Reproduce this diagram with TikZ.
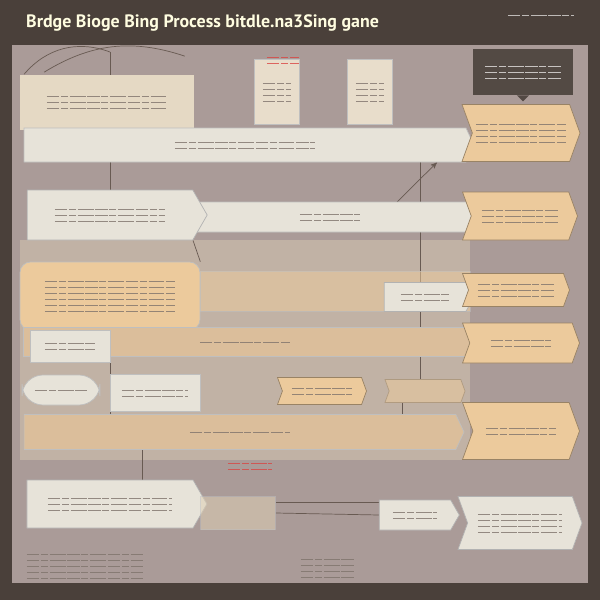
\documentclass[tikz,border=0pt]{standalone}
\usepackage{fontspec}
\setmainfont{PT Sans}
\usepackage{xcolor}
\usetikzlibrary{calc,positioning,arrows,shapes.symbols,shapes.geometric}
\pgfdeclarelayer{background}
\pgfsetlayers{background,main}
\definecolor{frame}{RGB}{74,64,58}
\definecolor{panel}{RGB}{170,155,152}
\definecolor{paper}{RGB}{231,227,217}
\definecolor{peach}{RGB}{236,202,156}
\definecolor{sand}{RGB}{222,207,181}
\definecolor{ink}{RGB}{104,90,82}
\tikzset{
    >=stealth',
    plainbox/.style={
        rectangle,
        inner sep=0pt,
        draw=black!25, thin
    },
    bandbox/.style={
        signal, signal to=east,
        signal pointer angle=130,
        inner sep=0pt,
        fill=paper, draw=black!25, thin
    },
    lightbox/.style={
        signal, signal to=east,
        signal pointer angle=120,
        inner sep=0pt,
        fill=paper, draw=black!30, thin
    },
    notebox/.style={
        signal, signal from=west, signal to=east,
        signal pointer angle=140,
        inner sep=0pt,
        fill=peach, draw=peach!65!black, thin
    },
    cardbox/.style={
        rectangle,
        inner sep=0pt,
        fill=sand!70!white, draw=black!25,
        minimum width=.9cm, minimum height=1.3cm
    },
    line/.style={draw=ink, thin},
    scrib/.style={ink!85!white, line width=.5pt, opacity=.8,
        dash pattern=on 7pt off 1pt on 4pt off 1pt on 9pt off 1pt},
    titletext/.style={text=white!88!yellow,
        font={\bfseries\fontsize{10.2pt}{12}\selectfont}},
}
% faint lines standing in for the unreadable small print
\newcommand{\fauxtext}[4][scrib]{%
    \foreach \k in {1,...,#3}
        \draw[#1] ($(#2)+(-#4,{(\k-(#3+1)/2)*6})$) -- ++(2*#4,0);
}

\begin{document}
\begin{tikzpicture}
[
    x=0.02cm, y=-0.02cm,
    fade/.style={opacity=.55},
]
\useasboundingbox (0,0) rectangle (600,600);
\begin{pgfonlayer}{background}
\fill[frame] (0,0) rectangle (600,600);
\fill[panel] (12,45) rectangle (588,583);
\fill[sand, opacity=.45] (20,240) rectangle (470,460);
\end{pgfonlayer}

\node[titletext, anchor=west] (title) at (20,23) {Brdge Bioge Bing Process bitdle.na3Sing gane};
\coordinate (stamp) at (541,15);
\fauxtext[scrib, white!80!frame]{stamp}{1}{33}

% top strip
\node[plainbox, fill=sand!80!white, draw=none, minimum width=3.5cm, minimum height=1.1cm] (intro) at (107,102) {};
\node[cardbox] (cardA) at (277,92) {};
\node[cardbox] (cardB) at (370,92) {};
\node[rectangle, fill=frame!95!white, minimum width=2cm, minimum height=.92cm] (tip) at (523,72) {};
\fill[frame!95!white] ($(tip.south)+(-6,0)$) -- ($(tip.south)+(0,6)$) -- ($(tip.south)+(6,0)$) -- cycle;

% row 1
\node[bandbox, minimum width=9cm, minimum height=.68cm] (band1) at (245,145) {};
\node[notebox, minimum width=2.36cm, minimum height=1.14cm] (note1) at (521,133) {};

% row 2
\node[bandbox, minimum width=5.6cm, minimum height=.6cm] (band2) at (330,217) {};
\node[lightbox, minimum width=3.6cm, minimum height=1cm] (step2) at (110,215) {};
\node[notebox, minimum width=2.3cm, minimum height=.96cm] (note2) at (520,216) {};

% row 3
\node[plainbox, fill=peach, fade, minimum width=5.4cm, minimum height=.8cm] (band3) at (335,291) {};
\node[plainbox, fill=peach, rounded corners=6pt, minimum width=3.6cm, minimum height=1.36cm] (step3) at (110,296) {};
\node[lightbox, minimum width=1.8cm, minimum height=.58cm] (tag3) at (425,297) {};
\node[notebox, minimum width=2.14cm, minimum height=.66cm] (note3) at (516,290) {};

% row 4
\node[bandbox, fill=peach!75!panel, minimum width=9cm, minimum height=.58cm] (band4) at (245,342) {};
\node[plainbox, fill=paper, minimum width=1.6cm, minimum height=.64cm] (step4) at (70,346) {};
\node[notebox, minimum width=2.34cm, minimum height=.8cm] (note4) at (521,343) {};

% row 5
\node[bandbox, fill=peach!75!panel, minimum width=8.8cm, minimum height=.7cm] (band5) at (240,432) {};
\node[plainbox, fill=paper, rounded corners=12pt, minimum width=1.56cm, minimum height=.6cm] (step5) at (61,390) {};
\node[plainbox, fill=paper, minimum width=1.8cm, minimum height=.74cm] (box5) at (155,393) {};
\node[notebox, minimum width=1.78cm, minimum height=.54cm] (mid5) at (322,391) {};
\node[notebox, fade, minimum width=1.6cm, minimum height=.46cm] (mid5b) at (425,391) {};
\node[notebox, minimum width=2.34cm, minimum height=1.14cm] (note5) at (521,431) {};

% row 6
\node[lightbox, minimum width=3.6cm, minimum height=.96cm] (step6) at (110,504) {};
\node[plainbox, fill=sand, fade, minimum width=1.5cm, minimum height=.66cm] (box6) at (238,513) {};
\node[lightbox, minimum width=1.6cm, minimum height=.6cm] (arr6) at (415,515) {};
\node[notebox, fill=paper, draw=black!30, minimum width=2.48cm, minimum height=1.06cm] (note6) at (520,523) {};

% small print
\fauxtext{intro}{3}{60}
\fauxtext{cardA}{4}{14}
\fauxtext{cardB}{4}{14}
\fauxtext[scrib, white!85!frame]{tip}{3}{38}
\fauxtext{band1}{2}{70}
\fauxtext{note1}{4}{45}
\fauxtext{step2}{3}{55}
\fauxtext{band2}{2}{30}
\fauxtext{note2}{3}{38}
\fauxtext{step3}{6}{65}
\fauxtext{tag3}{2}{24}
\fauxtext{note3}{3}{38}
\fauxtext{band4}{1}{45}
\fauxtext{step4}{2}{25}
\fauxtext{note4}{2}{30}
\fauxtext{step5}{1}{26}
\fauxtext{box5}{2}{33}
\fauxtext{mid5}{2}{30}
\fauxtext{band5}{1}{50}
\fauxtext{note5}{2}{35}
\fauxtext{step6}{3}{62}
\fauxtext{arr6}{2}{22}
\fauxtext{note6}{4}{42}
\coordinate (foot) at (85,566);
\fauxtext{foot}{5}{58}
\coordinate (footR) at (328,568);
\fauxtext{footR}{4}{27}
\coordinate (redA) at (283,60);
\fauxtext[scrib, red!55!panel]{redA}{2}{16}
\coordinate (redB) at (250,466);
\fauxtext[scrib, red!55!panel]{redB}{2}{22}

% connectors
\coordinate (spineL) at (110,52);
\coordinate (spineR) at (420,0);
\coordinate (spineS) at (402,0);
\coordinate (slant) at (397,202);
\begin{pgfonlayer}{background}
\draw[line] (spineL) -- (spineL |- band1.north);
\draw[line] ($(intro.north west)+(5,0)$) to[bend left=35] (spineL);
\draw[line] ($(intro.north west)+(25,-2)$) to[bend left=25] ($(intro.north east)+(-10,-18)$);
\draw[line] (spineL |- band1.south) -- (spineL |- step2.north);
\draw[line] (spineL |- step3.south) -- (spineL |- band5.south);
\draw[line] (spineR |- band1.south) -- (spineR |- mid5b.north);
\draw[line] (spineS |- mid5b.south) -- (spineS |- band5.south);
\draw[line, ->] (slant) -- (band1.south -| 437,0);
\draw[line] (step2.south east) -- (step3.north east);
\draw[line] (142,0 |- band5.south) -- (142,0 |- step6.north);
\draw[line] (box6.east) -- (arr6.west);
\draw[line] ($(box6.east)+(0,-11)$) -- ($(arr6.west)+(0,-13)$);
\end{pgfonlayer}
\end{tikzpicture}
\end{document}
